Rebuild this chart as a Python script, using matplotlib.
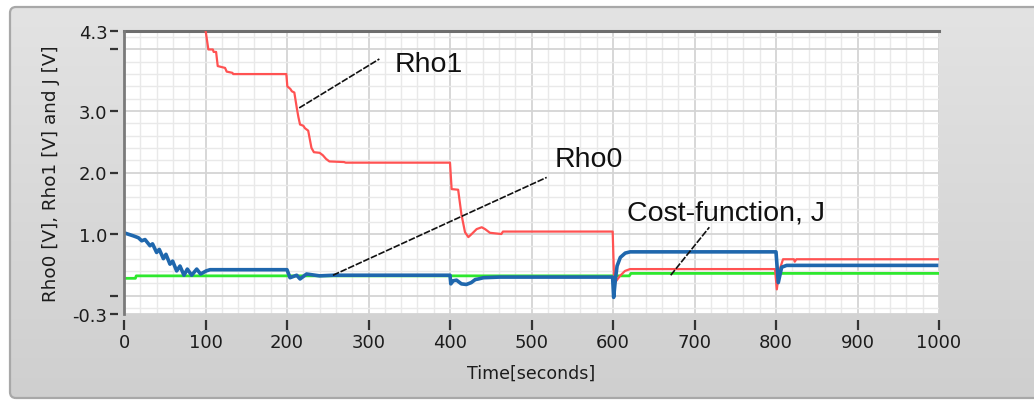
import numpy as np
import matplotlib
matplotlib.use('Agg')
import matplotlib.pyplot as plt
from matplotlib.patches import FancyBboxPatch
from matplotlib.colors import LinearSegmentedColormap

# values, time [s] and volts
rho1_t = [0, 99.5, 100.2, 103.5, 109, 110, 113, 115, 124, 126, 133, 134, 199.2,
          200.4, 204, 206, 209, 212, 214, 216, 220, 222, 226, 230, 233, 240, 244,
          248, 252, 270, 272, 400, 402, 410, 414, 418.4, 422.5, 426.6, 432.7,
          438.9, 443, 449, 463, 465, 599.6, 601.5, 603, 608.6, 614.7, 620.9,
          798.8, 801, 804, 808.6, 822, 823, 825, 1000]
rho1_v = [5.5, 4.9, 4.3, 4.0, 4.0, 3.96, 3.96, 3.73, 3.70, 3.64, 3.62, 3.60, 3.60,
          3.40, 3.36, 3.32, 3.30, 3.05, 2.90, 2.78, 2.76, 2.72, 2.68, 2.40, 2.33,
          2.32, 2.28, 2.22, 2.18, 2.17, 2.16, 2.16, 1.73, 1.72, 1.32, 1.03, 0.95,
          1.0, 1.08, 1.11, 1.08, 1.02, 1.0, 1.04, 1.04, 0.19, 0.22, 0.32, 0.40,
          0.43, 0.43, 0.10, 0.40, 0.59, 0.59, 0.55, 0.59, 0.59]

rho0_t = [0, 11.5, 17.6, 21.7, 25.8, 31.9, 35, 40, 43.3, 48.3, 51.5, 56.4, 59.7,
          64.6, 68.7, 73.6, 77.7, 83, 89.2, 94, 100.8, 105.5, 200, 203.7, 211.9,
          216, 224, 240, 257, 400, 401, 404, 408, 414, 420, 426, 431, 435, 441,
          461, 599.5, 600.8, 603, 605, 609, 615, 621, 800, 802.8, 806.9, 813, 997]
rho0_v = [1.02, 0.97, 0.94, 0.89, 0.91, 0.81, 0.84, 0.70, 0.75, 0.60, 0.67, 0.51,
          0.56, 0.40, 0.48, 0.33, 0.43, 0.33, 0.43, 0.35, 0.40, 0.42, 0.42, 0.29,
          0.33, 0.27, 0.35, 0.32, 0.33, 0.33, 0.19, 0.24, 0.25, 0.19, 0.18, 0.21,
          0.26, 0.27, 0.29, 0.30, 0.30, -0.03, 0.27, 0.48, 0.62, 0.69, 0.71, 0.71,
          0.21, 0.46, 0.49, 0.49]

cost_t = [0, 14, 15, 620, 622, 1000]
cost_v = [0.28, 0.28, 0.32, 0.32, 0.36, 0.36]

x_ticks = np.arange(0, 1001, 100)
y_ticks = [-0.3, 0.0, 1.0, 2.0, 3.0, 4.0, 4.3]
y_ticklabels = ['-0.3', '', '1.0', '2.0', '3.0', '', '4.3']

fig = plt.figure(figsize=(10.34, 4.02), dpi=100)

# grey labview-ish panel behind the graph (pixel units)
bg = fig.add_axes([0, 0, 1, 1], zorder=-5)
panel = FancyBboxPatch((10, 3), 1060, 391, boxstyle='round,pad=0,rounding_size=6',
                       facecolor='none', edgecolor='#a8a8a8', lw=1.6)
bg.add_patch(panel)
grad = np.linspace(0, 1, 256).reshape(-1, 1)
cmap = LinearSegmentedColormap.from_list('panel', ['#cfcfcf', '#d9d9d9', '#e3e3e3'])
img = bg.imshow(grad, extent=(10, 1070, 3, 394), origin='lower', cmap=cmap, aspect='auto')
img.set_clip_path(panel)
bg.set_xlim(0, 1034)
bg.set_ylim(0, 402)
bg.axis('off')

ax = fig.add_axes([124/1034, 87/402, 815/1034, 283/402])
ax.set_facecolor('white')

ax.plot(cost_t, cost_v, color='#2ee82e', lw=2.0, zorder=3)
ax.plot(rho1_t, rho1_v, color='#ff5252', lw=1.6, zorder=4)
ax.plot(rho0_t, rho0_v, color='#1f67ad', lw=2.6, zorder=5)

ax.set_xlim(0, 1000)
ax.set_ylim(-0.3, 4.3)
ax.set_xticks(x_ticks)
ax.set_xticks(np.arange(0, 1001, 20), minor=True)
ax.set_yticks(y_ticks)
ax.set_yticklabels(y_ticklabels)
ax.set_yticks(np.arange(-0.2, 4.3, 0.2), minor=True)

ax.grid(which='major', color='#d4d4d4', lw=1.3, zorder=0)
ax.grid(which='minor', color='#e9e9e9', lw=1.0, zorder=0)
ax.set_axisbelow(True)
ax.tick_params(which='minor', length=0)
ax.tick_params(axis='y', which='major', direction='out', length=6, width=1.6,
               pad=2, labelsize=13, color='#333333', labelcolor='#1c1c1c')
ax.tick_params(axis='x', which='major', direction='out', length=7, width=1.6,
               pad=3, labelsize=13, color='#333333', labelcolor='#1c1c1c')

ax.spines['left'].set_position(('outward', 4))
ax.spines['bottom'].set_position(('outward', 4))
ax.spines['left'].set_visible(False)
ax.spines['bottom'].set_visible(False)
ax.spines['right'].set_visible(False)
ax.spines['top'].set_color('#6e6e6e')
ax.spines['top'].set_linewidth(2.2)
ax.axvline(0, color='#7a7a7a', lw=2.0, clip_on=False, zorder=6)

ax.set_xlabel('Time[seconds]', fontsize=12.5, color='#1c1c1c', labelpad=9)
ax.set_ylabel('Rho0 [V], Rho1 [V] and J [V]', fontsize=13.2, color='#1c1c1c', labelpad=9)

# labels with leader lines
ann = dict(fontsize=20.5, family='Liberation Sans', color='#111111', ha='left', va='baseline')
ax.text(332.5, 3.65, 'Rho1', **ann)
ax.text(528.8, 2.10, 'Rho0', **ann)
ax.text(617, 1.23, 'Cost-function, J', **ann)
lead = dict(color='#111111', lw=1.2, ls=(0, (4, 1)), zorder=7)
ax.plot([215, 313.3], [3.05, 3.845], **lead)
ax.plot([256.4, 518.6], [0.33, 1.92], **lead)
ax.plot([670.8, 718.2], [0.33, 1.11], **lead)

fig.savefig('out.png', dpi=100)
